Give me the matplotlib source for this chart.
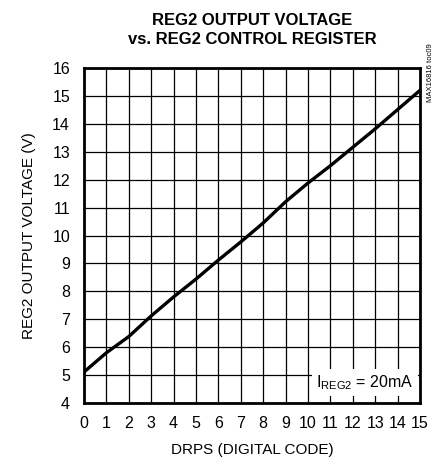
import matplotlib
matplotlib.use("Agg")
import matplotlib.pyplot as plt

# REG2 output voltage vs DRPS code
drps_code = [0, 1, 2, 3, 4, 5, 6, 7, 8, 9, 10, 11, 12, 13, 14, 15]
reg2_volts = [5.11, 5.80, 6.38, 7.12, 7.80, 8.44, 9.12, 9.77,
              10.45, 11.21, 11.88, 12.50, 13.16, 13.82, 14.51, 15.20]

x_ticks = list(range(0, 16))
y_ticks = list(range(4, 17))

plt.rcParams["font.family"] = ["Liberation Sans", "DejaVu Sans"]

fig = plt.figure(figsize=(4.45, 4.70), dpi=100)
ax = fig.add_axes([84 / 445, 1 - 403 / 470, 336 / 445, 335 / 470])

ax.plot(drps_code, reg2_volts, color="black", linewidth=2.4, zorder=3)

ax.set_xlim(0, 15)
ax.set_ylim(4, 16)
ax.set_xticks(x_ticks)
ax.set_yticks(y_ticks)
ax.grid(True, color="black", linewidth=0.9)
ax.set_axisbelow(True)
ax.tick_params(length=0, labelsize=11.5)
ax.tick_params(axis="y", pad=10)
ax.tick_params(axis="x", pad=9)

for spine in ax.spines.values():
    spine.set_linewidth(2.0)
    spine.set_zorder(4)

ax.set_xlabel("DRPS (DIGITAL CODE)", fontsize=11, labelpad=9)
ax.set_ylabel("REG2 OUTPUT VOLTAGE (V)", fontsize=11, labelpad=12)

fig.text(252 / 445, 1 - 30 / 470, "REG2 OUTPUT VOLTAGE\nvs. REG2 CONTROL REGISTER",
         ha="center", va="center", fontsize=12, fontweight="bold",
         linespacing=1.4)

ax.text(12.55, 4.72, r"I$_{\mathregular{REG2}}$ = 20mA", ha="center", va="center",
        fontsize=11.5, zorder=5,
        bbox=dict(facecolor="white", edgecolor="none", pad=3))

fig.text(430 / 445, 1 - 43 / 470, "MAX16816 toc09", rotation=90,
         ha="center", va="top", fontsize=5.5)

fig.savefig("out.png", dpi=100)
